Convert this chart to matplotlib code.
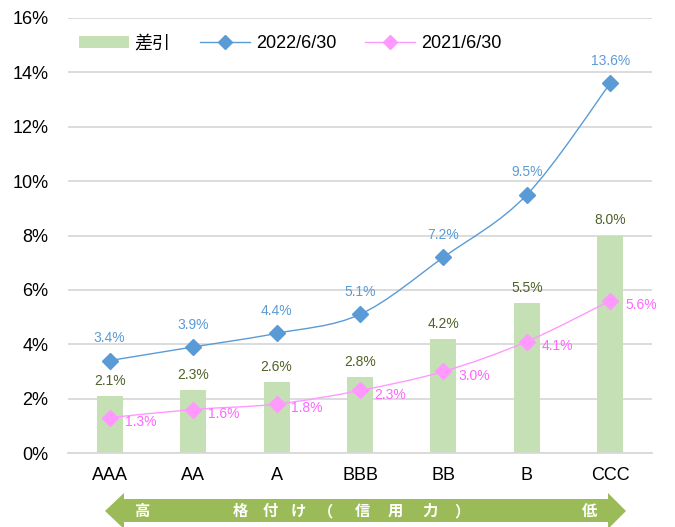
import numpy as np
import matplotlib.pyplot as plt
from matplotlib.path import Path
from matplotlib.patches import PathPatch, Polygon

plt.rcParams['font.family'] = ['Liberation Sans', 'Noto Sans CJK JP', 'DejaVu Sans']

categories = ['AAA', 'AA', 'A', 'BBB', 'BB', 'B', 'CCC']
diff = [2.1, 2.3, 2.6, 2.8, 4.2, 5.5, 8.0]
y2022 = [3.4, 3.9, 4.4, 5.1, 7.2, 9.5, 13.6]
y2021 = [1.3, 1.6, 1.8, 2.3, 3.0, 4.1, 5.6]
yticks = [0, 2, 4, 6, 8, 10, 12, 14, 16]
arrow_words = ['高', '格', '付', 'け', '（', '信', '用', '力', '）', '低']

W, H = 675, 527
fig = plt.figure(figsize=(W / 100, H / 100), dpi=100)
ax = fig.add_axes([68 / W, 1 - 453 / H, (652 - 68) / W, (453 - 18) / H])

x = np.arange(len(categories))


def smooth_path(xs, ys, t=1 / 6):
    # Excel-like smoothed line drawn as cubic bezier segments
    pts = np.column_stack([xs, ys]).astype(float)
    verts = [pts[0]]
    codes = [Path.MOVETO]
    n = len(pts)
    for i in range(n - 1):
        p0 = pts[max(i - 1, 0)]
        p1 = pts[i]
        p2 = pts[i + 1]
        p3 = pts[min(i + 2, n - 1)]
        c1 = p1 + (p2 - p0) * t
        c2 = p2 - (p3 - p1) * t
        verts += [c1, c2, p2]
        codes += [Path.CURVE4] * 3
    return Path(verts, codes)


bars = ax.bar(x, diff, width=0.31, color='#C5E0B4', zorder=2, label='差引')

blue = '#5B9BD5'
pink = '#FF99FF'
ax.add_patch(PathPatch(smooth_path(x, y2022), fill=False, ec=blue, lw=1, zorder=3))
ax.add_patch(PathPatch(smooth_path(x, y2021), fill=False, ec=pink, lw=1, zorder=3))
ax.plot(x, y2022, ls='none', marker='D', ms=8, color=blue, zorder=4)
ax.plot(x, y2021, ls='none', marker='D', ms=8, color=pink, zorder=4)

# legend proxies
h22, = ax.plot([], [], '-', color=blue, lw=1, marker='D', ms=7, label='2022/6/30')
h21, = ax.plot([], [], '-', color=pink, lw=1, marker='D', ms=7, label='2021/6/30')

for xi, v in zip(x, y2022):
    ax.annotate(f'{v:.1f}%', (xi, v), xytext=(0, 16), textcoords='offset points',
                ha='center', va='center', color=blue, fontsize=10)
for xi, v in zip(x, diff):
    ax.annotate(f'{v:.1f}%', (xi, v), xytext=(0, 11), textcoords='offset points',
                ha='center', va='center', color='#4F6228', fontsize=10)
for xi, v in zip(x, y2021):
    ax.annotate(f'{v:.1f}%', (xi, v), xytext=(22, -3), textcoords='offset points',
                ha='center', va='center', color='#FF66FF', fontsize=10)

ax.set_xlim(-0.5, len(categories) - 0.5)
ax.set_ylim(0, 16)
ax.set_yticks(yticks)
ax.set_yticklabels([f'{t}%' for t in yticks], fontsize=13)
ax.set_xticks(x)
ax.set_xticklabels(categories, fontsize=13)
ax.tick_params(length=0, pad=10)
ax.tick_params(axis='y', pad=14)
ax.grid(axis='y', color='#D9D9D9', lw=1.3, zorder=0)
for s in ['top', 'right', 'left']:
    ax.spines[s].set_visible(False)
ax.spines['bottom'].set_color('#D9D9D9')
ax.spines['bottom'].set_linewidth(1.3)

ax.legend(handles=[bars, h22, h21], loc='upper left', bbox_to_anchor=(0.0, 0.985),
          ncol=3, frameon=False, fontsize=13, handlelength=2.8, handletextpad=0.3,
          columnspacing=1.6, borderaxespad=0.2)

# double-headed arrow below the axis
def fp(px, py):
    return (px / W, 1 - py / H)

arrow = Polygon([fp(105, 511), fp(124, 493), fp(124, 499), fp(608, 499), fp(608, 493),
                 fp(626, 511), fp(608, 529), fp(608, 522), fp(124, 522), fp(124, 529)],
                closed=True, transform=fig.transFigure, fc='#9BBB59', ec='none')
fig.patches.append(arrow)

word_x = [142, 240, 270, 298, 326, 362, 395, 430, 462, 590]
for wx, w in zip(word_x, arrow_words):
    fig.text(wx / W, 1 - 511 / H, w, ha='center', va='center', color='white',
             fontsize=11, fontweight='bold', family=['Noto Sans CJK JP', 'DejaVu Sans'])

fig.savefig('out.png', dpi=100)
